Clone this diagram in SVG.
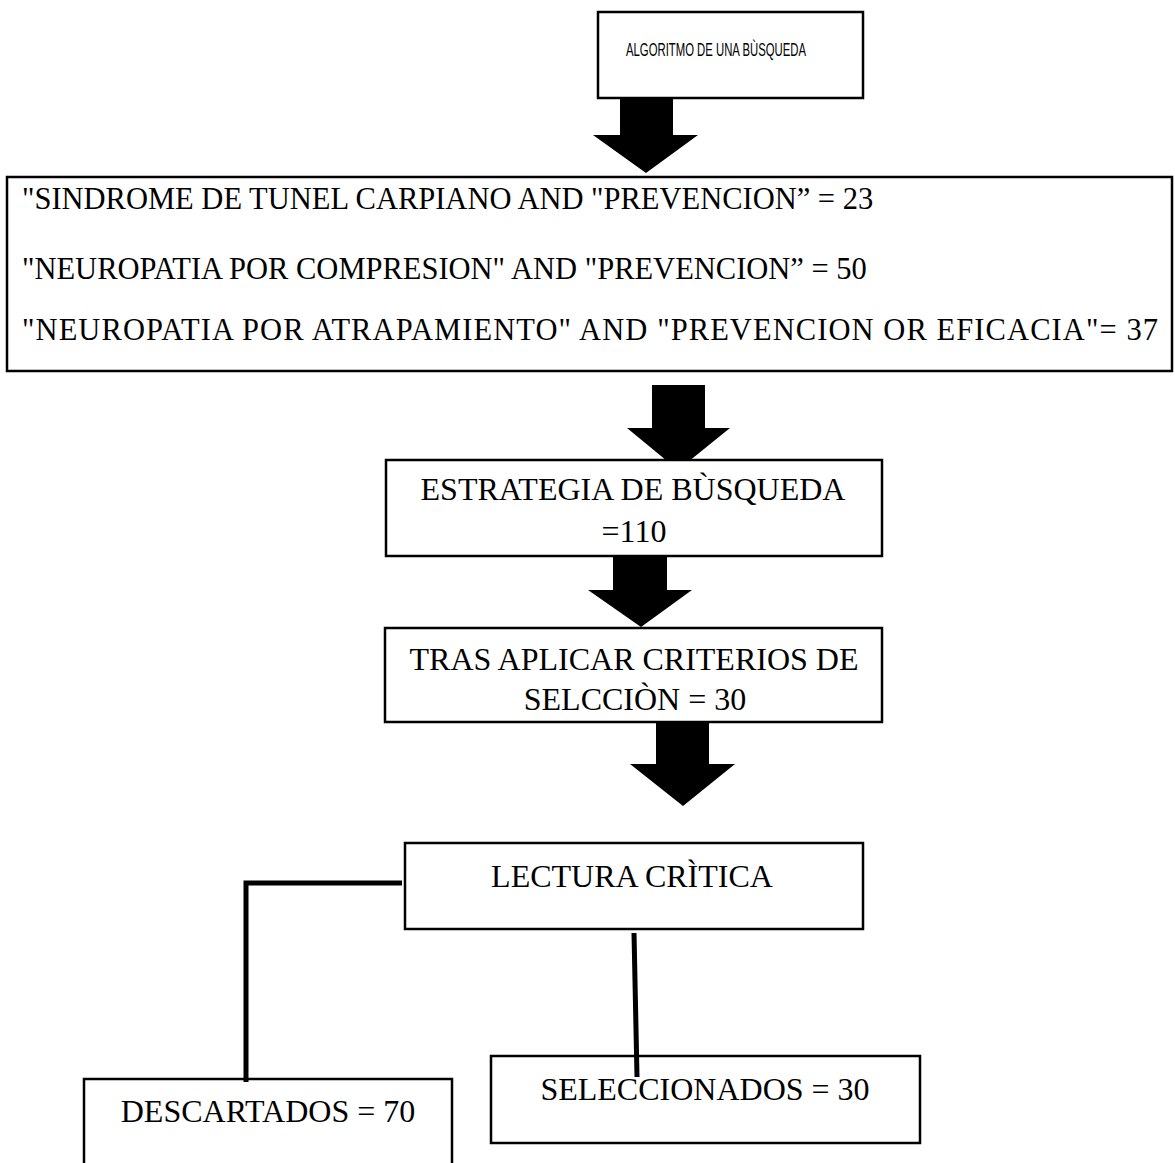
<svg xmlns="http://www.w3.org/2000/svg" width="1175" height="1163" viewBox="0 0 1175 1163">
<style>
.box{fill:#fff;stroke:#000;stroke-width:2.5}
.serif{font-family:"Liberation Serif","Times New Roman",serif;font-size:32px;fill:#000}
.big{font-size:30.5px}
.sans{font-family:"Liberation Sans Narrow","Liberation Sans",Arial,sans-serif;font-size:18px;fill:#000}
.arrow{fill:#000}
.conn{fill:none;stroke:#000;stroke-width:5;stroke-linejoin:miter;stroke-linecap:butt}
</style>
<rect width="1175" height="1163" fill="#fff"/>
<g id="arrows">
<polygon class="arrow" points="620,98 673,98 673,135 698,135 646,173 593,135 620,135"/>
<polygon class="arrow" points="652,385 705,385 705,428 730,428 678,470 627,428 652,428"/>
<polygon class="arrow" points="613,553 667,553 667,590 692,590 641,627 588,590 613,590"/>
<polygon class="arrow" points="656,723 709,723 709,764 735,764 683,806 630,764 656,764"/>
</g>
<g id="n1">
<rect class="box" x="598" y="12" width="265" height="86"/>
<text class="sans" x="626" y="56" textLength="180" lengthAdjust="spacingAndGlyphs">ALGORITMO DE UNA BÙSQUEDA</text>
</g>
<g id="n2">
<rect class="box" x="7" y="177" width="1165" height="194" stroke-width="3"/>
<text class="serif big" x="22" y="209">"SINDROME DE TUNEL CARPIANO AND "PREVENCION” = 23</text>
<text class="serif big" x="22" y="279">"NEUROPATIA POR COMPRESION" AND "PREVENCION” = 50</text>
<text class="serif big" x="22" y="340" textLength="1136" lengthAdjust="spacing">"NEUROPATIA POR ATRAPAMIENTO" AND "PREVENCION OR EFICACIA"= 37</text>
</g>
<g id="n3">
<rect class="box" x="386" y="460" width="496" height="96"/>
<text class="serif" x="633" y="500" text-anchor="middle">ESTRATEGIA DE BÙSQUEDA</text>
<text class="serif" x="634" y="542" text-anchor="middle">=110</text>
</g>
<g id="n4">
<rect class="box" x="385" y="628" width="497" height="94"/>
<text class="serif" x="634" y="670" text-anchor="middle">TRAS APLICAR CRITERIOS DE</text>
<text class="serif" x="635" y="710" text-anchor="middle">SELCCIÒN = 30</text>
</g>
<g id="n5">
<rect class="box" x="405" y="843" width="458" height="86"/>
<text class="serif" x="632" y="887" text-anchor="middle">LECTURA CRÌTICA</text>
</g>
<g id="n6">
<rect class="box" x="84" y="1079" width="368" height="100"/>
<text class="serif" x="268" y="1122" text-anchor="middle">DESCARTADOS = 70</text>
</g>
<g id="n7">
<rect class="box" x="491" y="1056" width="429" height="87"/>
<text class="serif" x="705" y="1100" text-anchor="middle">SELECCIONADOS = 30</text>
</g>
<g id="connectors">
<polyline class="conn" points="402,883 246,883 246,1082"/>
<line class="conn" x1="634" y1="933" x2="637" y2="1077"/>
</g>
</svg>
